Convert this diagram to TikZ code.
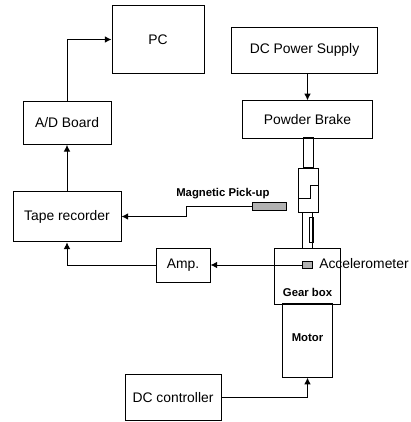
\documentclass[tikz,border=0pt]{standalone}
\usepackage{fontspec}
\setmainfont{Liberation Sans}
\usetikzlibrary{positioning}
\usetikzlibrary{calc}
\usetikzlibrary{arrows.meta}
\tikzset{
    block/.style = {rectangle,draw,line width=0.75pt,inner sep=0pt,font=\fontsize{10.4}{12}\selectfont},
    sensor/.style = {rectangle,draw,line width=0.75pt,inner sep=0pt,fill=black!30},
    shaft/.style = {rectangle,draw,line width=0.75pt,inner sep=0pt},
    signal/.style = {draw,line width=0.75pt,-{Latex[length=5pt,width=5pt]}},
    tag/.style = {inner sep=0pt,font=\fontsize{8.5}{10}\selectfont\bfseries}}
\begin{document}
\begin{tikzpicture}[x=0.75pt,y=-0.75pt]
    \useasboundingbox (0,0) rectangle (411,422);
    % blocks
    \node[block,minimum width=69pt,minimum height=51pt] (pc) at (158,39.5) {PC};
    \node[block,minimum width=66pt,minimum height=32pt] (board) at (67,123) {A/D Board};
    \node[block,minimum width=81pt,minimum height=38pt] (tape) at (67,216.5) {Tape recorder};
    \node[block,minimum width=40.5pt,minimum height=25.5pt] (amp) at (183,265) {Amp.};
    \node[block,minimum width=109pt,minimum height=34.5pt] (supply) at (304.5,50) {DC Power Supply};
    \node[block,minimum width=98pt,minimum height=28pt] (brake) at (307.5,119.5) {Powder Brake};
    \node[block,minimum width=72pt,minimum height=35pt] (controller) at (173,397.5) {DC controller};
    \node[shaft,minimum width=49pt,minimum height=42pt] (gear) at (307.5,276) {};
    \node[tag,above=5.5pt of gear.south] (gearlabel) {Gear box};
    \node[shaft,minimum width=37pt,minimum height=55pt] (motor) at (307.5,340.5) {};
    \node[tag] (motorlabel) at (307.5,338) {Motor};
    % shaft and coupling
    \node[shaft,minimum width=7.5pt,minimum height=23pt] (upper) at (308,152.5) {};
    \node[shaft,minimum width=15pt,minimum height=33pt] (coupling) at (308,190) {};
    \node[shaft,minimum width=8pt,minimum height=27pt] (lower) at (307.5,230) {};
    \node[shaft,minimum width=3pt,minimum height=19pt] (key) at (311,230) {};
    \draw[line width=0.75pt] (coupling.east |- 0,185) -- (310,185) -- (310,198) -- (coupling.west |- 0,198);
    % sensors
    \node[sensor,minimum width=26pt,minimum height=6pt] (pickup) at (269.5,206) {};
    \node[sensor,minimum width=7.5pt,minimum height=5pt] (accel) at (307,265) {};
    \node[inner sep=0pt,anchor=west,font=\fontsize{10.4}{12}\selectfont] (accellabel) at (319,264) {Accelerometer};
    \node[tag,anchor=west] (pickuplabel) at (176,194) {Magnetic Pick-up};
    % signals
    \coordinate (bend1) at (67,39.5);
    \coordinate (bend2) at (186,206);
    \coordinate (bend3) at (186,216.5);
    \coordinate (bend4) at (67,265);
    \coordinate (bend5) at (307.5,397.5);
    \draw[signal] (board.north) -- (bend1) -- (pc.west);
    \draw[signal] (tape.north) -- (board.south);
    \draw[signal] (pickup.west) -- (bend2) -- (bend3) -- (tape.east);
    \draw[signal] (amp.west) -- (bend4) -- (tape.south);
    \draw[signal] (accel.west) -- (amp.east);
    \draw[signal] (supply.south -| brake.north) -- (brake.north);
    \draw[signal] (controller.east) -- (bend5) -- (motor.south);
\end{tikzpicture}
\end{document}
